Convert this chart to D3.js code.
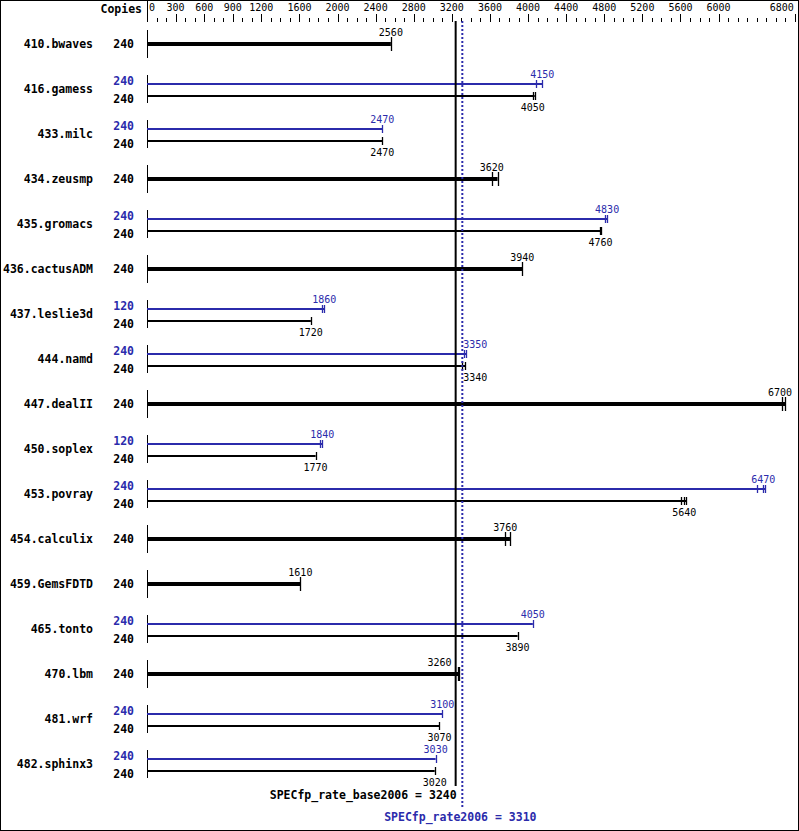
<!DOCTYPE html>
<html>
<head>
<meta charset="utf-8">
<script src="https://cdn.jsdelivr.net/npm/d3@7"></script>
<style>
  html, body { margin: 0; padding: 0; background: #fff; }
  svg { display: block; }
</style>
</head>
<body>
<svg id="chart" width="799" height="831"></svg>
<script>
const benchmarks = ["410.bwaves","416.gamess","433.milc","434.zeusmp","435.gromacs","436.cactusADM","437.leslie3d","444.namd","447.dealII","450.soplex","453.povray","454.calculix","459.GemsFDTD","465.tonto","470.lbm","481.wrf","482.sphinx3"];
const copiesBase = [240,240,240,240,240,240,240,240,240,240,240,240,240,240,240,240,240];
const copiesPeak = [null,240,240,null,240,null,120,240,null,120,240,null,null,240,null,240,240];
const baseValues = [2560,4050,2470,3620,4760,3940,1720,3340,6700,1770,5640,3760,1610,3890,3260,3070,3020];
const peakValues = [null,4150,2470,null,4830,null,1860,3350,null,1840,6470,null,null,4050,null,3100,3030];
const baseRunTicks = [[],[4070],[],[3680],[4770],[],[],[3310],[6670],[],[5610,5660],[3810],[],[],[3270],[],[]];
const peakRunTicks = [[],[4080],[],[],[4810],[],[1840],[3330],[],[1820],[6400,6490],[],[],[],[],[],[]];
const axisLabels = [0,300,600,900,1200,1600,2000,2400,2800,3200,3600,4000,4400,4800,5200,5600,6000,6800];
const minorStep = 100;
const baseMeanLabel = "SPECfp_rate_base2006";
const peakMeanLabel = "SPECfp_rate2006";
const baseMean = 3240;
const peakMean = 3310;

const W = 799, H = 831;
const BLUE = "#2b2bab";
const boldFont = "'DejaVu Sans Mono', monospace";
const svg = d3.select("#chart");

const x = d3.scaleLinear().domain([0, 6800]).range([147, 794.8]);
const y = d3.scalePoint().domain(benchmarks).range([44, 764]);

// border
svg.append("rect").attr("x", 0.5).attr("y", 0.5).attr("width", W - 1).attr("height", H - 1)
  .attr("fill", "none").attr("stroke", "#000");

// header
svg.append("text").attr("x", 142).attr("y", 13).attr("text-anchor", "end")
  .attr("font-family", boldFont).attr("font-weight", "bold").attr("font-size", 11.5).text("Copies");
svg.append("line").attr("x1", 147.5).attr("x2", 147.5).attr("y1", 0).attr("y2", 22).attr("stroke", "#000");

// axis ticks
const minorTicks = d3.range(0, 6800 + 1, minorStep).filter(v => !axisLabels.includes(v));
const axisG = svg.append("g");
axisG.selectAll("line.minor").data(minorTicks).join("line")
  .attr("x1", d => Math.round(x(d)) + 0.5).attr("x2", d => Math.round(x(d)) + 0.5)
  .attr("y1", 18).attr("y2", 22).attr("stroke", "#000");
axisG.selectAll("line.major").data(axisLabels).join("line")
  .attr("x1", d => Math.round(x(d)) + 0.5).attr("x2", d => Math.round(x(d)) + 0.5)
  .attr("y1", 14).attr("y2", 22).attr("stroke", "#000");
axisG.selectAll("text").data(axisLabels).join("text")
  .attr("x", (d, i) => i === 0 ? x(d) + 2 : (i === axisLabels.length - 1 ? x(d) - 1 : x(d)))
  .attr("y", 11)
  .attr("text-anchor", (d, i) => i === 0 ? "start" : (i === axisLabels.length - 1 ? "end" : "middle"))
  .attr("font-family", boldFont).attr("font-size", 10).text(d => d);

const lineLo = x(baseMean) - 1, lineHi = x(peakMean) + 1;

// groups
benchmarks.forEach((name, i) => {
  const cy = y(name);
  const g = svg.append("g");
  g.append("text").attr("x", 93).attr("y", cy + 4).attr("text-anchor", "end")
    .attr("font-family", boldFont).attr("font-weight", "bold").attr("font-size", 11.5).text(name);
  g.append("line").attr("x1", 147.5).attr("x2", 147.5).attr("y1", cy - 14).attr("y2", cy + 14).attr("stroke", "#000");

  const drawBar = (val, ticks, by, color, thick, labelAbove) => {
    const end = d3.max([val].concat(ticks));
    g.append("line").attr("x1", x(0)).attr("x2", x(end)).attr("y1", by).attr("y2", by)
      .attr("stroke", color).attr("stroke-width", thick ? 4 : 2);
    const th = thick ? 7 : 4;
    [val].concat(ticks).forEach(t => {
      g.append("line").attr("x1", Math.round(x(t)) + 0.5).attr("x2", Math.round(x(t)) + 0.5)
        .attr("y1", by - th).attr("y2", by + th).attr("stroke", color).attr("stroke-width", 1.3);
    });
    let lx = x(val), anchor = "middle";
    const halfW = 12;
    if (lx + halfW > 792) lx = 792 - halfW;
    if (lx + halfW > lineLo && lx - halfW < lineHi) {
      if (lx > (lineLo + lineHi) / 2) { lx = lineHi; anchor = "start"; }
      else { lx = lineLo - 3; anchor = "end"; }
    }
    g.append("text").attr("x", lx).attr("y", labelAbove ? by - (thick ? 8 : 6) : by + 15)
      .attr("text-anchor", anchor).attr("font-family", boldFont).attr("font-size", 10)
      .attr("fill", color === BLUE ? BLUE : "#000").text(val);
  };

  if (peakValues[i] == null) {
    g.append("text").attr("x", 134).attr("y", cy + 4).attr("text-anchor", "end")
      .attr("font-family", boldFont).attr("font-weight", "bold").attr("font-size", 11.5).text(copiesBase[i]);
    drawBar(baseValues[i], baseRunTicks[i], cy, "#000", true, true);
  } else {
    g.append("text").attr("x", 134).attr("y", cy - 4).attr("text-anchor", "end").attr("fill", BLUE)
      .attr("font-family", boldFont).attr("font-weight", "bold").attr("font-size", 11.5).text(copiesPeak[i]);
    g.append("text").attr("x", 134).attr("y", cy + 14).attr("text-anchor", "end")
      .attr("font-family", boldFont).attr("font-weight", "bold").attr("font-size", 11.5).text(copiesBase[i]);
    drawBar(peakValues[i], peakRunTicks[i], cy - 5, BLUE, false, true);
    drawBar(baseValues[i], baseRunTicks[i], cy + 7, "#000", false, false);
  }
});

// mean lines
svg.append("line").attr("x1", x(baseMean)).attr("x2", x(baseMean)).attr("y1", 21).attr("y2", 786)
  .attr("stroke", "#000").attr("stroke-width", 2);
svg.append("line").attr("x1", x(peakMean)).attr("x2", x(peakMean)).attr("y1", 21).attr("y2", 807)
  .attr("stroke", BLUE).attr("stroke-width", 2).attr("stroke-dasharray", "2,2");
svg.append("text").attr("x", x(baseMean) + 1).attr("y", 799).attr("text-anchor", "end")
  .attr("font-family", boldFont).attr("font-weight", "bold").attr("font-size", 11.5)
  .text(baseMeanLabel + " = " + baseMean);
svg.append("text").attr("x", x(peakMean) - 2).attr("y", 821).attr("text-anchor", "middle").attr("fill", BLUE)
  .attr("font-family", boldFont).attr("font-weight", "bold").attr("font-size", 11.5)
  .text(peakMeanLabel + " = " + peakMean);
</script>
</body>
</html>
